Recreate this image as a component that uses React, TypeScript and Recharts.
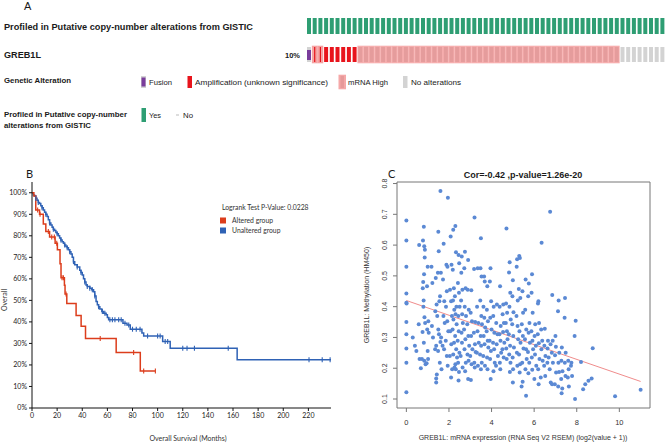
import React from "react";
import {
  BarChart,
  Bar,
  XAxis,
  YAxis,
  ComposedChart,
  Line,
  Scatter,
  ReferenceArea,
} from "recharts";

// ---- Panel A: oncoprint (one letter per sample) ----
// F = fusion, B = amplification + mRNA high, A = amplification, M = mRNA high, N = no alteration
const sampleCodes =
  "FBBAAAAAA" + "MMMMMMMMMMMMMMMMMMMMMMMMMMMMMMMMMMMMMMMMMMMMMM" + "NNNNNNNN";
const profiledCodes = "YYYYYYYYYYYYYYYYYYYYYYYYYYYYYYYYYYYYYYYYYYYYYYYYYYYYYYYYYYYYYYY";
const alteredPct = "10%";

// ---- Panel B: Kaplan-Meier (months, fraction surviving) ----
const alteredSteps = [
  [0, 1], [1.5, 0.985], [3, 0.92], [6, 0.9], [9, 0.855], [11, 0.82], [14, 0.795],
  [18.4, 0.765], [20.2, 0.735], [22.3, 0.67], [23.1, 0.605], [25.8, 0.57], [26.3, 0.53],
  [27.7, 0.485], [35.1, 0.43], [39.1, 0.38], [42.6, 0.323], [67, 0.258], [86.2, 0.172],
  [98.2, 0.172],
];
const alteredCensored = [
  [4.5, 0.92], [6.4, 0.9], [13, 0.82], [15.7, 0.795], [17.8, 0.795], [19.7, 0.765],
  [23.9, 0.605], [25, 0.605], [27.1, 0.53], [54.3, 0.323], [80.9, 0.258], [88.9, 0.172],
  [98.2, 0.172],
];
const unalteredSteps = [
  [0, 1], [1, 0.99], [2, 0.985], [3, 0.975], [4, 0.965], [5, 0.955], [6, 0.95], [7, 0.94],
  [8, 0.93], [9, 0.92], [10, 0.91], [11, 0.9], [12, 0.89], [13, 0.875], [14, 0.86],
  [15, 0.85], [16, 0.84], [17, 0.83], [18, 0.825], [19, 0.815], [20, 0.81], [21, 0.8],
  [22, 0.79], [23, 0.78], [24, 0.772], [25, 0.765], [26, 0.757], [27, 0.75], [28, 0.745],
  [29, 0.735], [30, 0.726], [31, 0.715], [32, 0.7], [33, 0.68], [34, 0.665], [36, 0.655],
  [38, 0.64], [39, 0.63], [40, 0.618], [41, 0.6], [42, 0.585], [43, 0.572], [44, 0.564],
  [46, 0.556], [47.6, 0.549], [49, 0.54], [50, 0.52], [51, 0.495], [52, 0.48], [53, 0.47],
  [54, 0.46], [55.6, 0.448], [57, 0.44], [59, 0.433], [60, 0.42], [61, 0.41], [72.4, 0.394],
  [75.6, 0.386], [78.2, 0.366], [87.5, 0.348], [88.9, 0.335], [104, 0.309], [110, 0.278],
  [163.3, 0.224], [238, 0.224],
];
const unalteredCensored = [
  [3, 0.975], [5, 0.955], [8, 0.93], [11, 0.9], [14, 0.86], [17, 0.83], [20, 0.81],
  [23, 0.78], [26, 0.757], [28, 0.745], [30, 0.726], [33, 0.68], [36, 0.655], [39, 0.63],
  [42, 0.585], [44, 0.564], [46, 0.556], [48, 0.549], [50, 0.52], [53, 0.47], [56, 0.448],
  [58, 0.44], [62, 0.41], [64, 0.41], [66, 0.41], [69, 0.41], [71, 0.41], [74, 0.394],
  [77, 0.386], [80, 0.366], [83, 0.366], [86, 0.366], [92, 0.335], [100, 0.335],
  [102, 0.335], [106, 0.309], [108, 0.309], [120, 0.278], [123.4, 0.278], [129.3, 0.278],
  [156.2, 0.278], [220.5, 0.224], [231, 0.224], [237.3, 0.224],
];
const survivalXTicks = [0, 20, 40, 60, 80, 100, 120, 140, 160, 180, 200, 220];
const survivalYTicks = [0, 0.1, 0.2, 0.3, 0.4, 0.5, 0.6, 0.7, 0.8, 0.9, 1];

// ---- Panel C: mRNA expression vs methylation ----
const methylationScatter = [
  [0, 0.68], [0, 0.615], [0, 0.53], [0, 0.443], [0, 0.413], [0.01, 0.41], [0, 0.35], [0, 0.31], [0, 0.264], [0, 0.218], [0, 0.122],
  [0.3, 0.3], [0.4, 0.273], [0.47, 0.256], [0.58, 0.343], [0.6, 0.6], [0.62, 0.23], [0.68, 0.2], [0.73, 0.23],
  [0.82, 0.66], [0.78, 0.615], [0.84, 0.596], [0.87, 0.585], [0.86, 0.56], [0.83, 0.505], [0.79, 0.48], [0.77, 0.46], [0.81, 0.42], [0.8, 0.4], [0.85, 0.366], [0.88, 0.347], [0.76, 0.318], [0.82, 0.283], [0.84, 0.224], [0.9, 0.213],
  [1.0, 0.53], [0.97, 0.466], [1.03, 0.353], [0.98, 0.326], [1.05, 0.315], [1.0, 0.256], [1.02, 0.23], [0.95, 0.216],
  [1.18, 0.53], [1.22, 0.477], [1.2, 0.337], [1.25, 0.3],
  [1.38, 0.493], [1.42, 0.407], [1.36, 0.385], [1.45, 0.37], [1.4, 0.273], [1.35, 0.262], [1.4, 0.167], [1.4, 0.154], [1.43, 0.18],
  [1.5, 0.643], [1.52, 0.58], [1.48, 0.51], [1.55, 0.418], [1.5, 0.326], [1.53, 0.31], [1.49, 0.256],
  [1.6, 0.776], [1.62, 0.51], [1.58, 0.434], [1.63, 0.3], [1.6, 0.285], [1.57, 0.218], [1.65, 0.197],
  [1.75, 0.604], [1.72, 0.488], [1.78, 0.418], [1.74, 0.37], [1.8, 0.347], [1.7, 0.273], [1.77, 0.262],
  [1.95, 0.754], [1.88, 0.536], [1.93, 0.53], [1.9, 0.45], [1.86, 0.4], [1.92, 0.353], [1.97, 0.32], [1.85, 0.289], [1.9, 0.24], [1.94, 0.208],
  [2.08, 0.628], [2.12, 0.536], [2.05, 0.455], [2.1, 0.418], [2.14, 0.37], [2.06, 0.32], [2.11, 0.278], [2.04, 0.24], [2.1, 0.17], [2.15, 0.197],
  [2.2, 0.65], [2.18, 0.52], [2.23, 0.46], [2.19, 0.42], [2.25, 0.39], [2.21, 0.358], [2.17, 0.326], [2.24, 0.283], [2.2, 0.245], [2.26, 0.202],
  [2.3, 0.662], [2.33, 0.577], [2.28, 0.434], [2.35, 0.4], [2.31, 0.375], [2.36, 0.343], [2.29, 0.305], [2.34, 0.262], [2.38, 0.235], [2.3, 0.213], [2.32, 0.197],
  [2.45, 0.568], [2.48, 0.541], [2.42, 0.477], [2.47, 0.445], [2.5, 0.4], [2.44, 0.37], [2.46, 0.32], [2.41, 0.289], [2.49, 0.25], [2.43, 0.218], [2.47, 0.188], [2.45, 0.16],
  [2.6, 0.563], [2.58, 0.51], [2.63, 0.455], [2.57, 0.42], [2.62, 0.375], [2.65, 0.347], [2.59, 0.315], [2.61, 0.283], [2.55, 0.24], [2.64, 0.202],
  [2.75, 0.578], [2.72, 0.525], [2.78, 0.46], [2.74, 0.4], [2.8, 0.37], [2.71, 0.326], [2.77, 0.294], [2.73, 0.262], [2.79, 0.218], [2.76, 0.19],
  [2.9, 0.552], [2.88, 0.455], [2.93, 0.39], [2.86, 0.343], [2.91, 0.305], [2.95, 0.273], [2.87, 0.245], [2.92, 0.224], [2.9, 0.165],
  [3.05, 0.453], [3.02, 0.38], [3.08, 0.353], [3.04, 0.305], [3.1, 0.262], [3.0, 0.24], [3.06, 0.213], [3.03, 0.162],
  [3.2, 0.69], [3.18, 0.522], [3.23, 0.35], [3.17, 0.315], [3.22, 0.278], [3.25, 0.253], [3.19, 0.218], [3.21, 0.202],
  [3.35, 0.525], [3.32, 0.4], [3.38, 0.347], [3.34, 0.32], [3.4, 0.283], [3.31, 0.25], [3.36, 0.208],
  [3.5, 0.622], [3.48, 0.525], [3.53, 0.498], [3.47, 0.42], [3.52, 0.37], [3.55, 0.343], [3.49, 0.305], [3.51, 0.273], [3.46, 0.245], [3.54, 0.218], [3.5, 0.197],
  [3.65, 0.498], [3.68, 0.482], [3.62, 0.4], [3.66, 0.364], [3.7, 0.332], [3.63, 0.305], [3.67, 0.278], [3.61, 0.24], [3.69, 0.208],
  [3.8, 0.466], [3.78, 0.39], [3.83, 0.353], [3.77, 0.32], [3.82, 0.289], [3.85, 0.267], [3.79, 0.235], [3.81, 0.197],
  [3.95, 0.525], [3.92, 0.482], [3.98, 0.418], [3.94, 0.364], [4.0, 0.326], [3.91, 0.289], [3.97, 0.256], [3.93, 0.23], [3.96, 0.165],
  [4.1, 0.4], [4.08, 0.37], [4.13, 0.315], [4.07, 0.283], [4.12, 0.262], [4.15, 0.218], [4.09, 0.19],
  [4.25, 0.407], [4.22, 0.347], [4.28, 0.31], [4.24, 0.278], [4.3, 0.24], [4.21, 0.208],
  [4.4, 0.466], [4.38, 0.4], [4.43, 0.337], [4.37, 0.31], [4.42, 0.289], [4.45, 0.25], [4.39, 0.218], [4.41, 0.197],
  [4.55, 0.407], [4.52, 0.375], [4.58, 0.347], [4.54, 0.318], [4.6, 0.283], [4.51, 0.262], [4.57, 0.235],
  [4.7, 0.654], [4.68, 0.41], [4.73, 0.38], [4.67, 0.347], [4.72, 0.32], [4.75, 0.294], [4.69, 0.264], [4.71, 0.23],
  [4.85, 0.544], [4.82, 0.511], [4.88, 0.445], [4.84, 0.4], [4.9, 0.358], [4.81, 0.31], [4.87, 0.273], [4.83, 0.245], [4.89, 0.218], [4.86, 0.188],
  [5.0, 0.486], [4.98, 0.434], [5.03, 0.382], [4.97, 0.343], [5.02, 0.305], [5.05, 0.267], [4.99, 0.235], [5.01, 0.197], [5.0, 0.154],
  [5.2, 0.554], [5.18, 0.53], [5.23, 0.42], [5.17, 0.37], [5.22, 0.337], [5.25, 0.294], [5.19, 0.25], [5.21, 0.208],
  [5.3, 0.565], [5.33, 0.558], [5.28, 0.457], [5.35, 0.428], [5.31, 0.32], [5.36, 0.283], [5.29, 0.245], [5.34, 0.213], [5.32, 0.186],
  [5.45, 0.45], [5.48, 0.38], [5.42, 0.343], [5.47, 0.305], [5.5, 0.264], [5.44, 0.218], [5.46, 0.156], [5.41, 0.141],
  [5.6, 0.488], [5.58, 0.39], [5.63, 0.326], [5.57, 0.294], [5.62, 0.262], [5.65, 0.23], [5.59, 0.197], [5.62, 0.111],
  [5.75, 0.475], [5.72, 0.434], [5.78, 0.347], [5.74, 0.315], [5.8, 0.283], [5.71, 0.253], [5.77, 0.218], [5.73, 0.184],
  [5.9, 0.505], [5.88, 0.445], [5.93, 0.38], [5.87, 0.32], [5.92, 0.289], [5.95, 0.262], [5.89, 0.235], [5.91, 0.195],
  [6.05, 0.343], [6.02, 0.305], [6.08, 0.273], [6.04, 0.245], [6.1, 0.208], [6.01, 0.165],
  [6.2, 0.418], [6.18, 0.41], [6.23, 0.347], [6.17, 0.31], [6.22, 0.281], [6.25, 0.23], [6.19, 0.197], [6.21, 0.148],
  [6.35, 0.608], [6.33, 0.326], [6.38, 0.289], [6.34, 0.262], [6.4, 0.224], [6.31, 0.17],
  [6.5, 0.328], [6.48, 0.273], [6.53, 0.24], [6.47, 0.208], [6.52, 0.175],
  [6.65, 0.289], [6.63, 0.264], [6.68, 0.235], [6.62, 0.218],
  [6.75, 0.708], [6.77, 0.278], [6.73, 0.197], [6.78, 0.154],
  [6.85, 0.438], [6.87, 0.289], [6.83, 0.25], [6.88, 0.218], [6.84, 0.148],
  [7.0, 0.305], [7.02, 0.27], [6.98, 0.242], [7.03, 0.186], [6.97, 0.148],
  [7.15, 0.42], [7.12, 0.385], [7.18, 0.25], [7.14, 0.218], [7.17, 0.188], [7.13, 0.141],
  [7.3, 0.267], [7.28, 0.224], [7.33, 0.19], [7.27, 0.165], [7.29, 0.119], [7.32, 0.134],
  [7.45, 0.428], [7.43, 0.364], [7.48, 0.25], [7.44, 0.218], [7.47, 0.175],
  [7.6, 0.224], [7.62, 0.197], [7.58, 0.17], [7.63, 0.141],
  [7.75, 0.218], [7.73, 0.208], [7.78, 0.175],
  [7.9, 0.305], [7.92, 0.1], [7.95, 0.354],
  [8.2, 0.22], [8.3, 0.132], [8.4, 0.148], [8.55, 0.159], [8.7, 0.167], [8.75, 0.265], [9.8, 0.109], [11.0, 0.13],
];
const fitLine = [
  [0, 0.42],
  [11, 0.157],
];
const exprTicks = [0, 2, 4, 6, 8, 10];
const methTicks = [0.1, 0.2, 0.3, 0.4, 0.5, 0.6, 0.7, 0.8];

const GREEN = "#2e9e73";
const GRAY = "#d3d3d3";
const RED = "#e8141c";
const PURPLE = "#7a3d9c";
const PINK = "#f07a7a";
const KM_RED = "#dc3d1c";
const KM_BLUE = "#2f62b5";
const DOT = "#5b89d4";

const samples = sampleCodes.split("").map((code, i) => ({
  id: i,
  code,
  profiled: profiledCodes[i] === "Y" ? 1 : 0,
  track: 1,
}));

const toTS = (rows: number[][]) => rows.map(([t, s]) => ({ t, s }));
const toXY = (rows: number[][]) => rows.map(([x, y]) => ({ x, y }));

const BAR_W = 4;
const HALF_GAP = 0.85;

function AlterationCell(props: any) {
  const { x, y, width, height, payload } = props;
  const code = payload.code;
  const bx = x - HALF_GAP;
  const bw = width + 2 * HALF_GAP;
  if (code === "F") {
    return (
      <g>
        <rect x={x} y={y} width={width} height={height} fill={GRAY} />
        <rect x={x} y={y + 3} width={width} height={height - 5} fill={PURPLE} />
      </g>
    );
  }
  if (code === "A") {
    return <rect x={x} y={y} width={width} height={height} fill={RED} />;
  }
  if (code === "B") {
    return (
      <g>
        <rect x={bx} y={y - 1.3} width={bw} height={height + 2.6} fill={PINK} fillOpacity={0.7} />
        <rect x={x + 1.4} y={y} width={1.2} height={height} fill={RED} />
      </g>
    );
  }
  if (code === "M") {
    return (
      <g>
        <rect x={x} y={y} width={width} height={height} fill={GRAY} />
        <rect x={bx} y={y - 1.3} width={bw} height={height + 2.6} fill={PINK} fillOpacity={0.62} />
      </g>
    );
  }
  return <rect x={x} y={y} width={width} height={height} fill={GRAY} />;
}

function Censor(color: string) {
  return (props: any) => {
    const { cx, cy } = props;
    return <line x1={cx} x2={cx} y1={cy - 2.5} y2={cy + 2.5} stroke={color} strokeWidth={1.1} />;
  };
}

function Dot(props: any) {
  const { cx, cy } = props;
  return <circle cx={cx} cy={cy} r={2} fill={DOT} />;
}

function RotatedTick(props: any) {
  const { x, y, payload } = props;
  const bx = x - 4;
  return (
    <text
      x={bx}
      y={y}
      transform={`rotate(-90, ${bx}, ${y})`}
      textAnchor="middle"
      fontSize={7}
      fill="#333"
      fontFamily="Liberation Sans, Arial, sans-serif"
    >
      {payload.value}
    </text>
  );
}

const ARIAL = "Liberation Sans, Arial, sans-serif";
const LATO = "Lato, 'Open Sans', sans-serif";

function Overlay() {
  const t = { fontFamily: ARIAL, fill: "#1a1a1a" } as const;
  return (
    <svg
      width={667}
      height={445}
      style={{ position: "absolute", left: 0, top: 0, pointerEvents: "none" }}
    >
      {/* panel A */}
      <text x={24} y={10} fontSize={11} {...t}>A</text>
      <text x={4} y={30} fontSize={9.5} fontWeight="bold" textLength={249} lengthAdjust="spacingAndGlyphs" {...t}>
        Profiled in Putative copy-number alterations from GISTIC
      </text>
      <text x={4} y={58} fontSize={9.5} fontWeight="bold" textLength={37} lengthAdjust="spacingAndGlyphs" {...t}>
        GREB1L
      </text>
      <text x={285} y={58} fontSize={7.5} fontWeight="bold" textLength={15} lengthAdjust="spacingAndGlyphs" {...t}>
        {alteredPct}
      </text>
      <text x={4} y={83} fontSize={8} fontWeight="bold" textLength={67} lengthAdjust="spacingAndGlyphs" {...t}>
        Genetic Alteration
      </text>
      <rect x={141} y={76} width={5} height={12} fill={GRAY} />
      <rect x={141.5} y={77.5} width={4} height={9} fill={PURPLE} />
      <text x={149} y={85} fontSize={8} textLength={23} lengthAdjust="spacingAndGlyphs" {...t}>Fusion</text>
      <rect x={187.5} y={76} width={4.5} height={12} fill={RED} />
      <text x={195} y={85} fontSize={8} textLength={133} lengthAdjust="spacingAndGlyphs" {...t}>
        Amplification (unknown significance)
      </text>
      <rect x={340.5} y={76} width={3.5} height={12} fill={GRAY} />
      <rect x={338.5} y={74.7} width={7.5} height={14.6} fill={PINK} fillOpacity={0.65} />
      <text x={348} y={85} fontSize={8} textLength={40} lengthAdjust="spacingAndGlyphs" {...t}>mRNA High</text>
      <rect x={403} y={76} width={4.5} height={12} fill={GRAY} />
      <text x={411} y={85} fontSize={8} textLength={50} lengthAdjust="spacingAndGlyphs" {...t}>No alterations</text>
      <text x={4} y={117} fontSize={8} fontWeight="bold" textLength={123} lengthAdjust="spacingAndGlyphs" {...t}>
        Profiled in Putative copy-number
      </text>
      <text x={4} y={127.5} fontSize={8} fontWeight="bold" textLength={87} lengthAdjust="spacingAndGlyphs" {...t}>
        alterations from GISTIC
      </text>
      <rect x={141.5} y={108} width={4.5} height={14} fill={GREEN} />
      <text x={149} y={118} fontSize={8} textLength={12} lengthAdjust="spacingAndGlyphs" {...t}>Yes</text>
      <rect x={176} y={114.5} width={3} height={1} fill="#bbb" />
      <text x={183} y={118} fontSize={8} textLength={10} lengthAdjust="spacingAndGlyphs" {...t}>No</text>

      {/* panel B */}
      <text x={26} y={178} fontSize={11} fontFamily={LATO} fill="#1a1a1a">B</text>
      <text x={222} y={210} fontSize={6.8} fontFamily={LATO} fill="#333">Logrank Test P-Value: 0.0228</text>
      <rect x={220} y={217.5} width={6} height={6} fill={KM_RED} />
      <text x={232} y={223} fontSize={6.8} fontFamily={LATO} fill="#333">Altered group</text>
      <rect x={220} y={227.5} width={6} height={6} fill={KM_BLUE} />
      <text x={232} y={233} fontSize={6.8} fontFamily={LATO} fill="#333">Unaltered group</text>
      <text x={7} y={300} fontSize={7} fontFamily={LATO} fill="#333" textAnchor="middle" transform="rotate(-90, 7, 300)">
        Overall
      </text>
      <text x={188} y={441} fontSize={7} fontFamily={LATO} fill="#333" textAnchor="middle">
        Overall Survival (Months)
      </text>

      {/* panel C */}
      <text x={388} y={178} fontSize={11} fontFamily={LATO} fill="#1a1a1a">C</text>
      <text x={523} y={178} fontSize={9} fontWeight="bold" fontFamily={ARIAL} fill="#1a1a1a" textAnchor="middle">
        Cor=-0.42 ,p-value=1.26e-20
      </text>
      <text x={369} y={295} fontSize={7} fontFamily={ARIAL} fill="#333" textAnchor="middle" transform="rotate(-90, 369, 295)">
        GREB1L: Methylation (HM450)
      </text>
      <text x={523} y={440} fontSize={7} fontFamily={ARIAL} fill="#333" textAnchor="middle">
        GREB1L: mRNA expression (RNA Seq V2 RSEM) (log2(value + 1))
      </text>
    </svg>
  );
}

export default function App() {
  const n = samples.length;
  const trackWidth = n * (BAR_W + 2 * HALF_GAP);
  return (
    <div
      style={{
        position: "absolute",
        left: 0,
        top: 0,
        width: 667,
        height: 445,
        background: "#fff",
        overflow: "hidden",
        fontFamily: ARIAL,
      }}
    >
      {/* oncoprint rows */}
      <div style={{ position: "absolute", left: 307 - HALF_GAP, top: 18 }}>
        <BarChart width={trackWidth} height={16} data={samples} margin={{ top: 0, right: 0, bottom: 0, left: 0 }}>
          <XAxis dataKey="id" hide />
          <YAxis hide domain={[0, 1]} />
          <Bar dataKey="profiled" fill={GREEN} barSize={BAR_W} isAnimationActive={false} />
        </BarChart>
      </div>
      <div style={{ position: "absolute", left: 307 - HALF_GAP, top: 45 }}>
        <BarChart width={trackWidth} height={20} data={samples} margin={{ top: 2, right: 0, bottom: 3, left: 0 }}>
          <XAxis dataKey="id" hide />
          <YAxis hide domain={[0, 1]} />
          <Bar dataKey="track" barSize={BAR_W} shape={AlterationCell} isAnimationActive={false} />
        </BarChart>
      </div>

      {/* survival */}
      <div style={{ position: "absolute", left: 0, top: 165 }}>
        <ComposedChart width={340} height={280} margin={{ top: 17, right: 9, bottom: 17, left: 4 }}>
          <XAxis
            dataKey="t"
            type="number"
            domain={[0, 238]}
            ticks={survivalXTicks}
            height={20}
            tickSize={3}
            tickMargin={2}
            stroke="#111"
            tick={{ fontSize: 7, fill: "#222", fontFamily: LATO }}
            allowDataOverflow
          />
          <YAxis
            dataKey="s"
            type="number"
            domain={[0, 1.05]}
            ticks={survivalYTicks}
            width={28}
            tickSize={3}
            tickMargin={2}
            stroke="#111"
            tickFormatter={(v: number) => `${Math.round(v * 100)}%`}
            tick={{ fontSize: 7, fill: "#222", fontFamily: LATO }}
            allowDataOverflow
          />
          <Line data={toTS(unalteredSteps)} dataKey="s" type="stepAfter" stroke={KM_BLUE} strokeWidth={1.5} dot={false} isAnimationActive={false} />
          <Scatter data={toTS(unalteredCensored)} fill={KM_BLUE} shape={Censor(KM_BLUE)} isAnimationActive={false} />
          <Line data={toTS(alteredSteps)} dataKey="s" type="stepAfter" stroke={KM_RED} strokeWidth={1.5} dot={false} isAnimationActive={false} />
          <Scatter data={toTS(alteredCensored)} fill={KM_RED} shape={Censor(KM_RED)} isAnimationActive={false} />
        </ComposedChart>
      </div>

      {/* scatter */}
      <div style={{ position: "absolute", left: 330, top: 165 }}>
        <ComposedChart width={337} height={280} margin={{ top: 17, right: 17, bottom: 17, left: 37 }}>
          <XAxis
            dataKey="x"
            type="number"
            domain={[-0.44, 11.44]}
            ticks={exprTicks}
            height={20}
            tickSize={4}
            tickMargin={8}
            axisLine={false}
            tickLine={{ stroke: "#777" }}
            tick={{ fontSize: 7.5, fill: "#333", fontFamily: ARIAL }}
            allowDataOverflow
          />
          <YAxis
            dataKey="y"
            type="number"
            domain={[0.0708, 0.805]}
            ticks={methTicks}
            width={30}
            tickSize={4}
            tickMargin={2}
            axisLine={false}
            tickLine={{ stroke: "#777" }}
            tick={RotatedTick}
            allowDataOverflow
          />
          <ReferenceArea x1={-0.44} x2={11.44} y1={0.0708} y2={0.805} fill="none" stroke="#777" strokeWidth={1} />
          <Scatter data={toXY(methylationScatter)} fill={DOT} shape={Dot} isAnimationActive={false} />
          <Line data={toXY(fitLine)} dataKey="y" stroke="#f08c8c" strokeWidth={1} dot={false} isAnimationActive={false} />
        </ComposedChart>
      </div>

      <Overlay />
    </div>
  );
}
